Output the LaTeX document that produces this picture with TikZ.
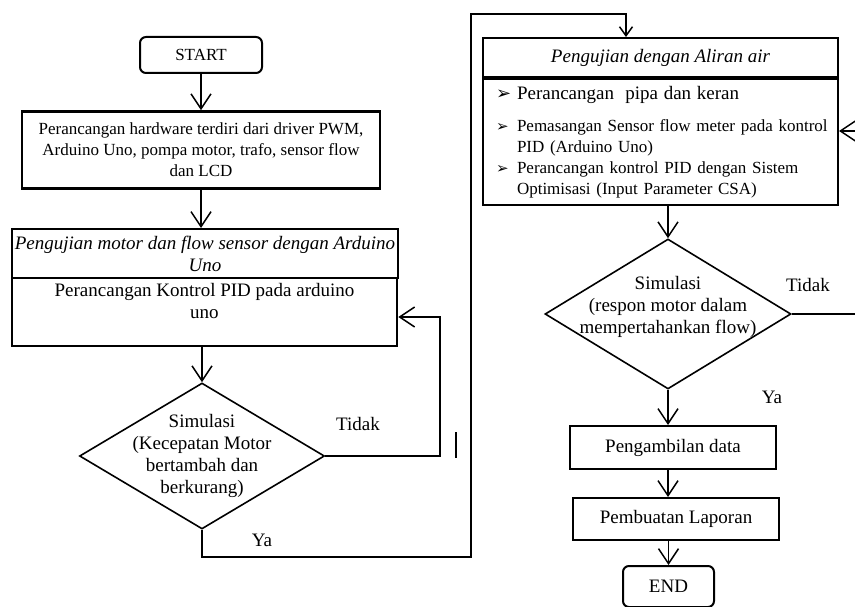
\documentclass[tikz,border=0pt]{standalone}
\usepackage{fontspec}
\setmainfont{Liberation Serif}
\newfontfamily\symfont{DejaVu Sans}
\usetikzlibrary{shapes.geometric,arrows.meta,positioning}

\begin{document}
\begin{tikzpicture}[
    x=1pt, y=-1pt,
    box/.style={rectangle, draw, line width=2pt, align=center, inner sep=0pt},
    term/.style={box, rounded corners=6pt},
    decision/.style={diamond, draw, line width=1.6pt, inner sep=0pt},
    arrow/.style={-{Straight Barb[length=15pt,width=20pt]}, line width=1.5pt},
    tiparrow/.style={-{Straight Barb[length=9pt,width=13pt]}, line width=1.5pt},
    wire/.style={line width=1.2pt},
    big/.style={font=\fontsize{19}{22}\selectfont},
    small/.style={font=\fontsize{17}{21}\selectfont},
    ital/.style={font=\fontsize{19}{22}\selectfont\itshape}
]
\useasboundingbox (0,0) rectangle (855,607);

% Start
\node[term, small, minimum width=122, minimum height=36] (start) at (201,55) {START};

% Hardware
\node[box, small, line width=2.6pt, minimum width=358, minimum height=77] (hw) at (201,150)
    {Perancangan hardware terdiri dari driver PWM,\\Arduino Uno, pompa motor, trafo, sensor flow\\dan LCD};

% Motor test and PID
\node[box, ital, minimum width=386, minimum height=49] (motor) at (205,253.5)
    {Pengujian motor dan flow sensor dengan Arduino\\Uno};
\node[box, big, line width=2.6pt, minimum width=385, minimum height=68] (pid) at (204.5,312)
    {Perancangan Kontrol PID pada arduino\\uno\\\mbox{}};

% Decision 1
\node[decision, minimum width=245, minimum height=146] (sim1) at (202,456) {};
\node[big, align=center] (sim1_text) at (sim1.center)
    {Simulasi\\(Kecepatan Motor\\bertambah dan\\berkurang)};
\node[big] (tidak1) at (358,424) {Tidak};
\node[big] (ya1) at (262,540) {Ya};

% Water flow test
\node[box, ital, anchor=north west, minimum width=355, minimum height=39] (air) at (482,37)
    {Pengujian dengan Aliran air};
\node[box, small, anchor=north west, align=left, text width=329, inner xsep=13pt,
      minimum width=355, minimum height=126] (air_steps) at (air.south west)
    {\mbox{\fontsize{19}{22}\selectfont\makebox[21pt][l]{\symfont\fontsize{18}{18}\selectfont ➢}Perancangan\ \ pipa dan keran}\\[11pt]
     \mbox{\makebox[21pt][l]{\symfont\fontsize{15}{15}\selectfont ➢}Pemasangan Sensor flow meter pada kontrol}\\
     \mbox{\hspace*{21pt}PID (Arduino Uno)}\\
     \mbox{\makebox[21pt][l]{\symfont\fontsize{15}{15}\selectfont ➢}Perancangan kontrol PID dengan Sistem}\\
     \mbox{\hspace*{21pt}Optimisasi (Input Parameter CSA)}};

% Decision 2
\node[decision, minimum width=246, minimum height=150] (sim2) at (668,314) {};
\node[big, align=center] (sim2_text) at (668,307)
    {Simulasi\\(respon motor dalam\\mempertahankan flow)};
\node[big] (tidak2) at (808,285) {Tidak};
\node[big] (ya2) at (772,397) {Ya};

% Data and report
\node[box, big, minimum width=206, minimum height=43] (data) at (673,447.5) {Pengambilan data};
\node[box, big, minimum width=206, minimum height=42] (report) at (676,519) {Pembuatan Laporan};
\node[term, big, minimum width=91, minimum height=41] (end) at (668.5,586.5) {END};

% Left column arrows
\draw[arrow] (start.south) -- (hw.north);
\draw[arrow] (hw.south) -- (hw.south |- motor.north);
\draw[arrow] (pid.south -| sim1.north) -- (sim1.north);

% Tidak loop 1
\coordinate (pid_back) at (440,317);
\draw[arrow] (sim1.east) -| (pid_back) -- (pid_back -| pid.east);
\coordinate (mark_top) at (456,432);
\coordinate (mark_bot) at (456,458);
\draw[wire] (mark_top) -- (mark_bot);

% Ya to right column
\coordinate (ya_bend) at (471,557);
\coordinate (top_bend) at (626,14);
\draw[tiparrow] (sim1.south) |- (ya_bend) |- (top_bend) -- (top_bend |- air.north);

% Right column arrows
\draw[arrow] (air_steps.south -| sim2.north) -- (sim2.north);
\coordinate (air_back) at (862,131);
\draw[arrow] (sim2.east) -| (air_back) -- (air_back -| air_steps.east);
\draw[arrow] (sim2.south) -- (sim2.south |- data.north);
\draw[arrow] (data.south -| sim2.south) -- (sim2.south |- report.north);
\draw[arrow] (report.south -| end.north) -- (end.north);

\end{tikzpicture}
\end{document}
